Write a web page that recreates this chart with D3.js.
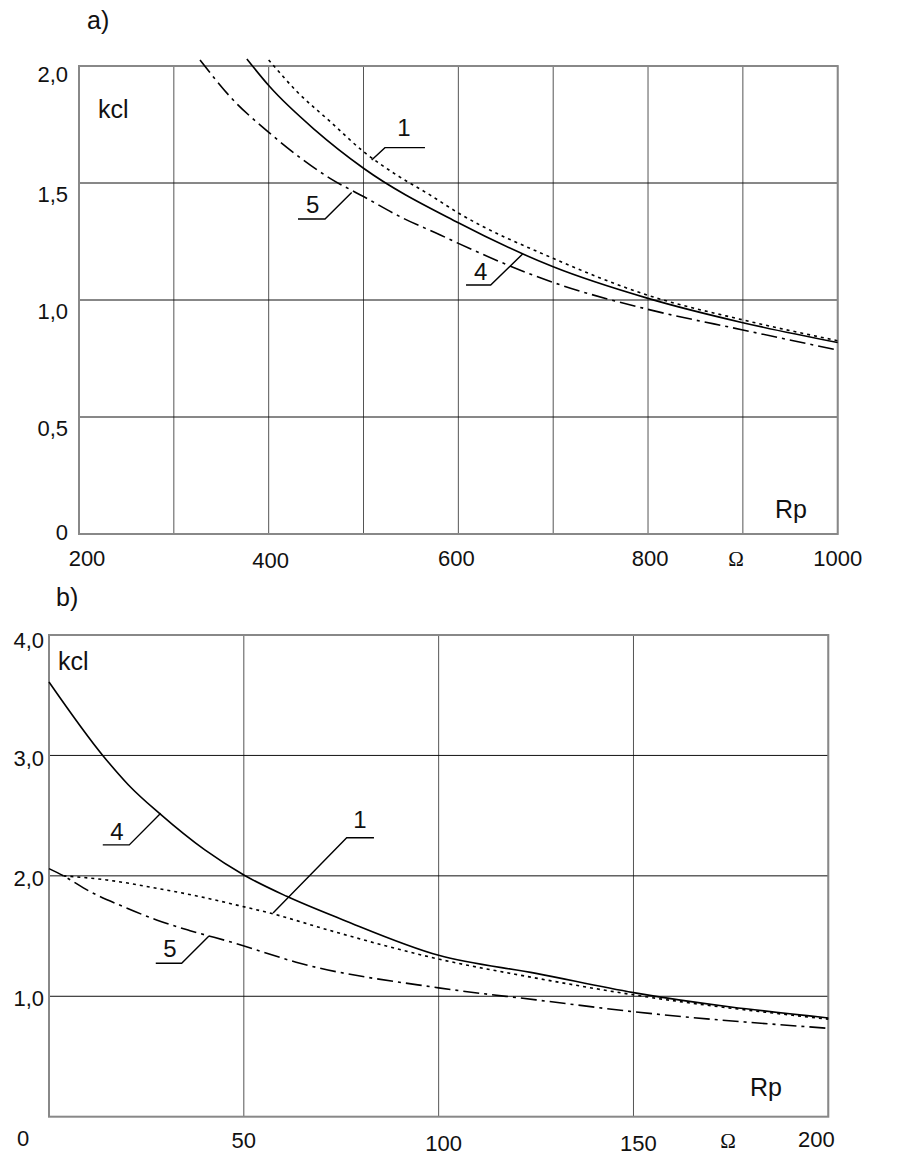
<!DOCTYPE html>
<html lang="en">
<head>
<meta charset="UTF-8">
<title>kcl vs Rp</title>
<script src="https://d3js.org/d3.v7.min.js"></script>
<style>
  body { margin: 0; background: #fff; }
  svg text { font-family: "Liberation Sans", Arial, sans-serif; fill: #111; }
  .omega { font-family: "Liberation Serif", "Times New Roman", serif; }
</style>
</head>
<body>
<div id="chart"></div>
<script>
// ---- data: chart a) ----
const gridXA = [200, 300, 400, 500, 600, 700, 800, 900, 1000];
const tickXA = [200, 400, 600, 800, 1000];
const tickYA = [0, 0.5, 1.0, 1.5, 2.0];

const rp1a = [400, 430, 465, 500, 535, 570, 600, 700, 800, 900, 1000];
const k1a  = [2.026, 1.89, 1.762, 1.634, 1.534, 1.449, 1.372, 1.178, 1.02, 0.915, 0.826];
const rp4a = [377, 401, 449, 500, 600, 700, 800, 900, 1000];
const k4a  = [2.03, 1.912, 1.726, 1.563, 1.33, 1.142, 1.007, 0.903, 0.818];
const rp5a = [327.6, 359.3, 401.4, 464.7, 500, 542, 581, 600, 700, 800, 900, 1000];
const k5a  = [2.026, 1.869, 1.712, 1.52, 1.442, 1.349, 1.278, 1.242, 1.075, 0.960, 0.872, 0.786];

// ---- data: chart b) ----
const gridXB = [0, 50, 100, 150, 200];
const tickXB = [0, 50, 100, 150, 200];
const tickYB = [1, 2, 3, 4];

const rp1b = [3.7, 14.8, 27.6, 38.8, 47.3, 57.5, 72.9, 100, 125, 150, 200];
const k1b  = [2.0, 1.966, 1.897, 1.827, 1.764, 1.684, 1.539, 1.309, 1.151, 1.012, 0.81];
const rp4b = [0, 13.9, 20.4, 28.5, 40, 50, 61, 75.5, 100, 125, 150, 200];
const k4b  = [3.61, 2.996, 2.755, 2.514, 2.215, 2.007, 1.83, 1.634, 1.34, 1.19, 1.03, 0.82];
const rp5b = [0, 3.7, 10.5, 19.1, 27.6, 36.2, 47.3, 64.4, 100, 125, 150, 200];
const k5b  = [2.06, 2.0, 1.87, 1.744, 1.634, 1.545, 1.445, 1.274, 1.07, 0.97, 0.872, 0.734];

// curve labels: [label, tip, elbow, shelf end, text position] in data units
const notesA = [
  ["1", [508.6, 1.598], [522.6, 1.651], [564.8, 1.651], [542.7, 1.701]],
  ["5", [487.5, 1.459], [459.4, 1.346], [430.9, 1.346], [446.5, 1.370]],
  ["4", [667.8, 1.197], [634.1, 1.064], [608.1, 1.064], [623.6, 1.085]]
];
const notesB = [
  ["4", [28.67, 2.520], [20.6, 2.257], [13.8, 2.257], [17.45, 2.299]],
  ["1", [57.5, 1.692], [76.4, 2.317], [83.4, 2.317], [79.8, 2.395]],
  ["5", [41.06, 1.501], [34.05, 1.274], [27.4, 1.274], [31.05, 1.329]]
];

const DOT = "3,4";
const DASHDOT = "16,5,3,5";

const svg = d3.select("#chart").append("svg")
  .attr("width", 923).attr("height", 1156);

const fmt = v => v === 0 ? "0" : d3.format(".1f")(v).replace(".", ",");

function drawChart(cfg) {
  const g = svg.append("g");
  const x = d3.scaleLinear().domain(cfg.xDomain).range([cfg.left, cfg.right]);
  const y = d3.scaleLinear().domain(cfg.yDomain).range([cfg.bottom, cfg.top]);

  // vertical grid
  g.selectAll(".vg").data(cfg.gridX).enter().append("line")
    .attr("x1", d => x(d)).attr("x2", d => x(d))
    .attr("y1", cfg.top).attr("y2", cfg.bottom)
    .attr("stroke", "#555").attr("stroke-width", 1);
  // horizontal grid
  g.selectAll(".hg").data(cfg.gridY).enter().append("line")
    .attr("x1", cfg.left).attr("x2", cfg.right)
    .attr("y1", d => y(d)).attr("y2", d => y(d))
    .attr("stroke", "#111").attr("stroke-width", 1);
  // frame
  g.append("rect")
    .attr("x", cfg.left).attr("y", cfg.top)
    .attr("width", cfg.right - cfg.left).attr("height", cfg.bottom - cfg.top)
    .attr("fill", "none").attr("stroke", "#888").attr("stroke-width", 2);

  // y tick labels
  g.selectAll(".yl").data(cfg.tickY).enter().append("text")
    .attr("x", cfg.yLabelX).attr("y", d => y(d) + cfg.yLabelDy(d))
    .attr("text-anchor", "end").attr("font-size", 22)
    .text(fmt);
  // x tick labels
  g.selectAll(".xl").data(cfg.tickX).enter().append("text")
    .attr("x", d => x(d) + (cfg.xLabelDx[d] || 0))
    .attr("y", d => cfg.xLabelY + (cfg.xLabelDyi[d] || 0))
    .attr("text-anchor", "middle").attr("font-size", 22)
    .text(d => d);

  // curves
  const line = d3.line().x(d => x(d[0])).y(d => y(d[1]));
  const smooth = d3.line().x(d => x(d[0])).y(d => y(d[1])).curve(d3.curveMonotoneX);
  cfg.series.forEach(s => {
    g.append("path")
      .datum(s.rp.map((r, i) => [r, s.k[i]]))
      .attr("d", smooth)
      .attr("fill", "none").attr("stroke", "#000")
      .attr("stroke-width", 1.6)
      .attr("stroke-dasharray", s.dash);
  });

  // leaders and numbers
  cfg.notes.forEach(n => {
    g.append("path")
      .datum([n[1], n[2], n[3]])
      .attr("d", line)
      .attr("fill", "none").attr("stroke", "#000").attr("stroke-width", 1.4);
    g.append("text")
      .attr("x", x(n[4][0])).attr("y", y(n[4][1]))
      .attr("text-anchor", "middle").attr("font-size", 24)
      .text(n[0]);
  });

  // titles
  g.append("text").attr("x", cfg.titleX).attr("y", cfg.titleY)
    .attr("font-size", 25).text(cfg.title);
  g.append("text").attr("x", cfg.kclX).attr("y", cfg.kclY)
    .attr("font-size", 25).text("kcl");
  g.append("text").attr("x", cfg.rpX).attr("y", cfg.rpY)
    .attr("font-size", 25).text("Rp");
  g.append("text").attr("class", "omega")
    .attr("x", cfg.omegaX).attr("y", cfg.xLabelY)
    .attr("text-anchor", "middle").attr("font-size", 21)
    .text("\u03A9");
}

drawChart({
  title: "a)", titleX: 87, titleY: 29,
  left: 79, right: 837.7, top: 66, bottom: 534,
  xDomain: [200, 1000], yDomain: [0, 2],
  gridX: gridXA, gridY: [0.5, 1.0, 1.5],
  tickX: tickXA, tickY: tickYA,
  yLabelX: 68,
  yLabelDy: d => d === 0 ? 6 : (d === 2 ? 16 : 19),
  xLabelY: 566, xLabelDx: {200: 8, 400: 2, 600: -2, 800: 2}, xLabelDyi: {400: 2},
  kclX: 98, kclY: 118, rpX: 775, rpY: 518, omegaX: 736,
  series: [
    {rp: rp1a, k: k1a, dash: DOT},
    {rp: rp4a, k: k4a, dash: null},
    {rp: rp5a, k: k5a, dash: DASHDOT}
  ],
  notes: notesA
});

drawChart({
  title: "b)", titleX: 56, titleY: 606,
  left: 49, right: 828.3, top: 635, bottom: 1116.7,
  xDomain: [0, 200], yDomain: [0, 4],
  gridX: gridXB, gridY: [1, 2, 3],
  tickX: tickXB, tickY: tickYB,
  yLabelX: 44,
  yLabelDy: d => d === 4 ? 13 : (d === 3 ? 11 : 10),
  xLabelY: 1148, xLabelDx: {0: -26, 100: 5, 150: 5, 200: -12},
  xLabelDyi: {0: -2, 100: 3, 150: 3, 200: -1},
  kclX: 58, kclY: 670, rpX: 750, rpY: 1096, omegaX: 728,
  series: [
    {rp: rp1b, k: k1b, dash: DOT},
    {rp: rp4b, k: k4b, dash: null},
    {rp: rp5b, k: k5b, dash: DASHDOT}
  ],
  notes: notesB
});
</script>
</body>
</html>
